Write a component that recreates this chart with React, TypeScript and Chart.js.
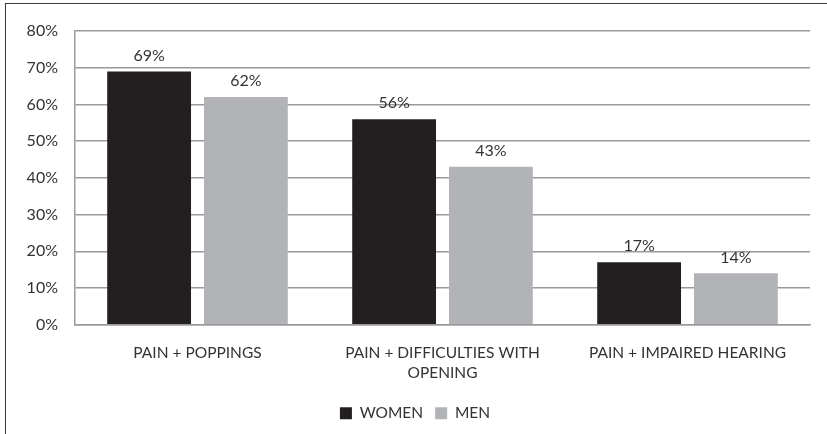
import React, { useEffect, useRef } from "react";
import { Chart, registerables } from "chart.js";

Chart.register(...registerables);

const categories: (string | string[])[] = [
  "PAIN + POPPINGS",
  ["PAIN + DIFFICULTIES WITH", "OPENING"],
  "PAIN + IMPAIRED HEARING",
];
const womenValues = [69, 56, 17];
const menValues = [62, 43, 14];
const seriesNames = ["WOMEN", "MEN"];
const yTicks = [0, 10, 20, 30, 40, 50, 60, 70, 80];

const FONT = "Lato, 'Open Sans', sans-serif";
const TEXT = "#333333";

const valueLabels = {
  id: "valueLabels",
  afterDatasetsDraw(chart: any) {
    const ctx = chart.ctx;
    ctx.save();
    ctx.font = `16px ${FONT}`;
    ctx.fillStyle = TEXT;
    ctx.textAlign = "center";
    ctx.textBaseline = "bottom";
    chart.data.datasets.forEach((ds: any, i: number) => {
      const meta = chart.getDatasetMeta(i);
      meta.data.forEach((bar: any, j: number) => {
        ctx.fillText(ds.data[j] + "%", bar.x, bar.y - 8);
      });
    });
    ctx.restore();
  },
};

export default function App() {
  const ref = useRef<HTMLCanvasElement>(null);
  useEffect(() => {
    document.body.style.margin = "0";
    const chart = new Chart(ref.current!, {
      type: "bar",
      data: {
        labels: categories as any,
        datasets: [
          {
            label: seriesNames[0],
            data: womenValues,
            backgroundColor: "#231f20",
            categoryPercentage: 0.79,
            barPercentage: 0.866,
          },
          {
            label: seriesNames[1],
            data: menValues,
            backgroundColor: "#b1b3b6",
            categoryPercentage: 0.79,
            barPercentage: 0.866,
          },
        ],
      },
      options: {
        animation: false,
        responsive: false,
        maintainAspectRatio: false,
        layout: { padding: { top: 31, right: 17, left: 20, bottom: 3 } },
        plugins: {
          tooltip: { enabled: false },
          legend: {
            position: "bottom",
            labels: {
              font: { family: FONT, size: 15.5 },
              color: TEXT,
              boxWidth: 12,
              boxHeight: 12,
              padding: 12,
            },
          },
        },
        scales: {
          x: {
            grid: { display: false },
            border: { color: "#9a9a9a", width: 1.5 },
            ticks: {
              font: { family: FONT, size: 15.5, lineHeight: 1.25 },
              color: TEXT,
              maxRotation: 0,
              autoSkip: false,
              padding: 11,
            },
          },
          y: {
            min: 0,
            max: 80,
            afterBuildTicks(scale: any) {
              scale.ticks = yTicks.map((v) => ({ value: v }));
            },
            afterFit(scale: any) {
              scale.width = 55;
            },
            grid: { color: "#9a9a9a", lineWidth: 1.5, drawTicks: false },
            border: { color: "#9a9a9a", width: 1.5 },
            ticks: {
              font: { family: FONT, size: 16 },
              color: TEXT,
              padding: 17,
              callback: (v: any) => v + "%",
            },
          },
        },
      },
      plugins: [valueLabels],
    });
    return () => chart.destroy();
  }, []);
  return (
    <div style={{ position: "relative", width: 827, height: 434, overflow: "hidden", background: "#fff" }}>
      <div
        style={{
          position: "absolute",
          left: 5,
          top: 3,
          width: 900,
          height: 500,
          border: "1.5px solid #3a3a3a",
          boxSizing: "border-box",
        }}
      />
      <canvas ref={ref} width={827} height={434} style={{ position: "absolute", left: 0, top: 0 }} />
    </div>
  );
}
